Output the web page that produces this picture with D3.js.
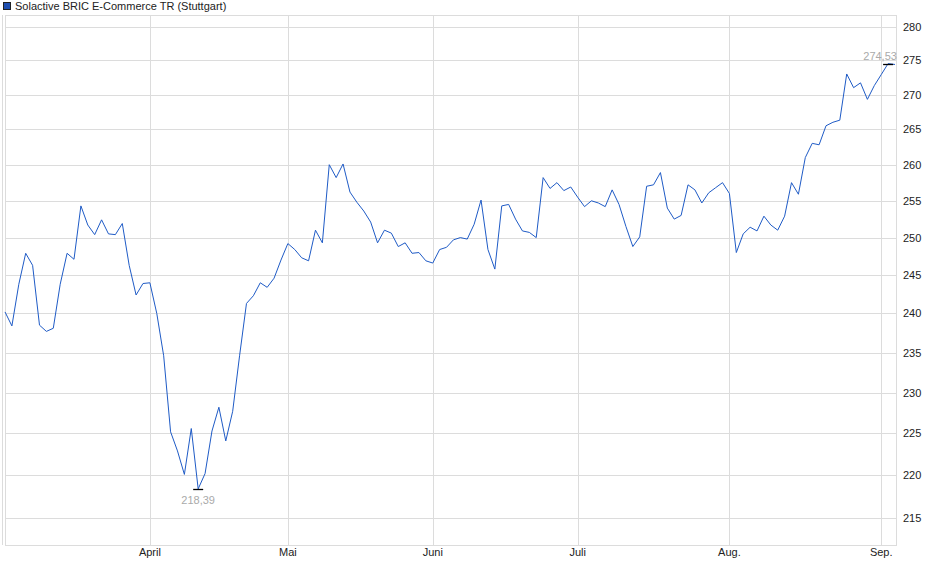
<!DOCTYPE html>
<html>
<head>
<meta charset="utf-8">
<script src="https://cdn.jsdelivr.net/npm/d3@7"></script>
<style>
  body { margin: 0; background: #fff; }
  text { font-family: "Liberation Sans", Arial, sans-serif; }
</style>
</head>
<body>
<div id="chart"></div>
<script>
const title = "Solactive BRIC E-Commerce TR (Stuttgart)";
const values = [
  240.2, 238.4, 243.8, 247.9, 246.3, 238.5, 237.7, 238.1, 243.8,
  247.9, 247.1, 254.3, 251.7, 250.4, 252.4, 250.5, 250.4, 251.9, 246.3,
  242.4, 243.9, 244.0, 240.0, 234.6, 225.2, 222.9, 220.1, 225.6, 218.39,
  220.2, 225.3, 228.2, 224.1, 227.7, 234.6, 241.3, 242.3, 244.0, 243.4,
  244.6, 247.0, 249.2, 248.4, 247.3, 246.9, 251.0, 249.3, 260.0, 258.2,
  260.1, 256.2, 254.8, 253.6, 252.1, 249.3, 251.0, 250.6, 248.8, 249.3,
  247.9, 248.0, 246.9, 246.6, 248.4, 248.7, 249.7, 250.0, 249.8, 251.8,
  255.1, 248.4, 245.8, 254.3, 254.5, 252.5, 250.9, 250.7, 250.0, 258.2,
  256.7, 257.5, 256.4, 256.9, 255.5, 254.2, 255.0, 254.7, 254.2, 256.5, 254.5,
  251.5, 248.8, 250.1, 257.0, 257.2, 258.9, 254.0, 252.5, 253.0, 257.2,
  256.5, 254.7, 256.1, 256.8, 257.5, 256.0, 248.0, 250.5, 251.4, 250.9,
  252.9, 251.7, 251.0, 252.9, 257.5, 255.9, 261.0, 263.0, 262.8, 265.5,
  266.0, 266.3, 273.0, 271.0, 271.7, 269.3, 271.3, 272.9, 274.53, 274.4
];
const monthLabels = ["April", "Mai", "Juni", "Juli", "Aug.", "Sep."];
const monthIndex = [21, 41, 62, 83, 105, 127];
const yTicks = [215, 220, 225, 230, 235, 240, 245, 250, 255, 260, 265, 270, 275, 280];

const W = 940, H = 579;
const L = 5, R = 896, T = 15, B = 545;

const svg = d3.select("#chart").append("svg").attr("width", W).attr("height", H);

const x = d3.scaleLinear().domain([0, values.length - 1]).range([L, R - 1]);
const y = d3.scaleLog().domain([211.9, 281.8]).range([B, T]);

// grid
svg.append("g").selectAll("line").data(yTicks).enter().append("line")
  .attr("x1", L).attr("x2", R).attr("y1", d => Math.round(y(d)) + 0.5).attr("y2", d => Math.round(y(d)) + 0.5)
  .attr("stroke", "#dcdcdc");
svg.append("g").selectAll("line").data(monthIndex).enter().append("line")
  .attr("x1", d => Math.round(x(d)) + 0.5).attr("x2", d => Math.round(x(d)) + 0.5)
  .attr("y1", T).attr("y2", B).attr("stroke", "#dcdcdc");

// frame
svg.append("rect").attr("x", L + 0.5).attr("y", T + 0.5).attr("width", R - L).attr("height", B - T)
  .attr("fill", "none").attr("stroke", "#dcdcdc");
svg.append("line").attr("x1", 2.5).attr("x2", 2.5).attr("y1", T).attr("y2", B).attr("stroke", "#dcdcdc");

// y labels
svg.append("g").selectAll("text").data(yTicks).enter().append("text")
  .attr("x", 903).attr("y", d => y(d) + 4).attr("font-size", 11).attr("fill", "#222")
  .text(d => d);

// x labels
svg.append("g").selectAll("text").data(monthIndex).enter().append("text")
  .attr("x", d => x(d)).attr("y", 556).attr("text-anchor", "middle")
  .attr("font-size", 11).attr("fill", "#222")
  .text((d, i) => monthLabels[i]);

// line
svg.append("path").datum(values)
  .attr("d", d3.line().x((d, i) => x(i)).y(d => y(d)))
  .attr("fill", "none").attr("stroke", "#1f5bc6").attr("stroke-width", 1);

// min / max markers
const minI = d3.minIndex(values), maxI = d3.maxIndex(values);
const fmt = v => v.toFixed(2).replace(".", ",");
[[minI, 1], [maxI, -1]].forEach(([i, dir]) => {
  const px = x(i), py = Math.round(y(values[i])) + 0.5;
  svg.append("line").attr("x1", px - 5).attr("x2", px + 5).attr("y1", py).attr("y2", py)
    .attr("stroke", "#000").attr("stroke-width", 1.3);
  svg.append("text").attr("x", dir > 0 ? px : px - 8).attr("y", dir > 0 ? py + 14 : py - 5)
    .attr("text-anchor", "middle").attr("font-size", 11).attr("fill", "#aaa")
    .text(fmt(values[i]));
});

// legend
svg.append("rect").attr("x", 3.5).attr("y", 2.5).attr("width", 7).attr("height", 7)
  .attr("fill", "#1f4fb0").attr("stroke", "#222");
svg.append("text").attr("x", 15).attr("y", 10).attr("font-size", 11).attr("fill", "#222").text(title);
</script>
</body>
</html>
